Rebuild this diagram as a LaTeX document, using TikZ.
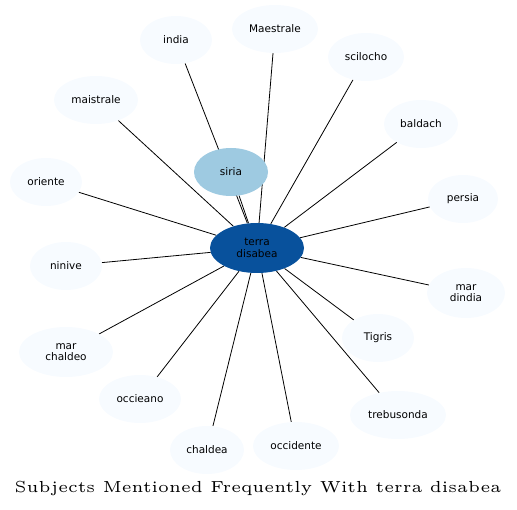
\documentclass[tikz,border=0pt]{standalone}
\usepackage{fontspec}
\newfontfamily\labelfont{DejaVu Sans}
\newfontfamily\titlefont{lmroman5-regular.otf}
\usetikzlibrary{shapes.geometric,backgrounds}
\definecolor{pale}{HTML}{F7FBFF}
\definecolor{mid}{HTML}{9ECAE1}
\definecolor{dark}{HTML}{08519C}
\tikzset{
  bub/.style={ellipse, fill=pale, inner sep=0pt, minimum height=48pt, align=center,
    font=\labelfont\fontsize{10.5}{11.5}\selectfont},
  edge/.style={draw=black, line width=0.8pt}
}
\begin{document}
\begin{tikzpicture}[x=1pt,y=-1pt]
\useasboundingbox (0,0) rectangle (517,510);
\node[bub, fill=dark, minimum width=94pt, minimum height=50pt] (terra) at (257,248) {terra\\disabea};
\node[bub, fill=mid, minimum width=74pt] (siria) at (231,172) {siria};
\node[bub, minimum width=72pt] (india) at (176,40) {india};
\node[bub, minimum width=86pt] (maestrale) at (275,29) {Maestrale};
\node[bub, minimum width=76pt] (scilocho) at (366,57) {scilocho};
\node[bub, minimum width=74pt] (baldach) at (421,124) {baldach};
\node[bub, minimum width=70pt] (persia) at (463,199) {persia};
\node[bub, minimum width=78pt, minimum height=50pt] (mardindia) at (466,293) {mar\\dindia};
\node[bub, minimum width=72pt] (tigris) at (378,338) {Tigris};
\node[bub, minimum width=96pt] (trebusonda) at (398,415) {trebusonda};
\node[bub, minimum width=86pt] (occidente) at (296,446) {occidente};
\node[bub, minimum width=74pt] (chaldea) at (207,450) {chaldea};
\node[bub, minimum width=82pt] (occieano) at (140,399) {occieano};
\node[bub, minimum width=94pt, minimum height=50pt] (marchaldeo) at (66,352) {mar\\chaldeo};
\node[bub, minimum width=72pt] (ninive) at (66,266) {ninive};
\node[bub, minimum width=72pt] (oriente) at (46,182) {oriente};
\node[bub, minimum width=84pt] (maistrale) at (96,100) {maistrale};
\node[font=\titlefont\fontsize{16}{18}\selectfont] (title) at (258,489) {Subjects Mentioned Frequently With terra disabea};
\begin{scope}[on background layer]
\foreach \n in {siria,india,maestrale,scilocho,baldach,persia,mardindia,tigris,trebusonda,occidente,chaldea,occieano,marchaldeo,ninive,oriente,maistrale}
  \draw[edge] (\n) -- (terra);
\end{scope}
\end{tikzpicture}
\end{document}
